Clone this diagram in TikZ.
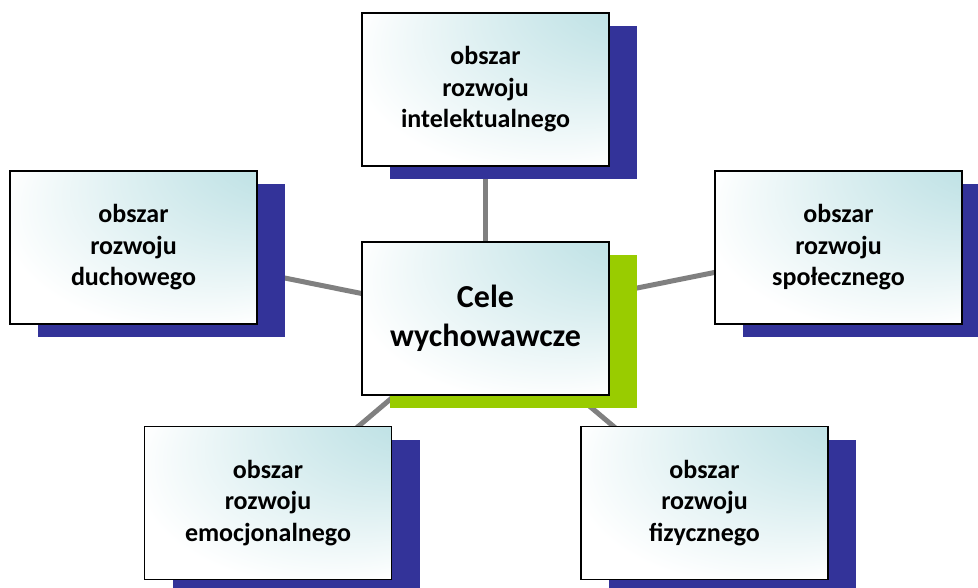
\documentclass[tikz,border=0pt]{standalone}
\usepackage{fontspec}
\setmainfont{Carlito}
\usetikzlibrary{shadows,backgrounds}
\definecolor{glowteal}{HTML}{B5DDE1}
\definecolor{shadowblue}{HTML}{333399}
\definecolor{shadowgreen}{HTML}{99CC00}
\definecolor{linkgray}{HTML}{808080}
\pgfdeclareradialshading{glow}{\pgfpoint{45bp}{45bp}}{color(0bp)=(glowteal); color(8bp)=(glowteal); color(38bp)=(white); color(50bp)=(white)}
\tikzset{
  areabox/.style={draw=black, line width=1.5pt, shade, shading=glow, align=center,
    minimum width=247pt, minimum height=153pt, inner sep=0pt,
    font=\bfseries\fontsize{26}{31.5}\selectfont,
    drop shadow={shadow xshift=28pt, shadow yshift=-13pt, fill=shadowblue, opacity=1}},
  goalbox/.style={areabox, font=\bfseries\fontsize{32}{39}\selectfont,
    drop shadow={shadow xshift=28pt, shadow yshift=-13pt, fill=shadowgreen, opacity=1}},
  link/.style={draw=linkgray, line width=5pt}
}
\begin{document}
\begin{tikzpicture}[x=1pt,y=-1pt]
\useasboundingbox (0,0) rectangle (978,587);
\clip (0,0) rectangle (978,587);
\node[goalbox] (goal) at (485.5,318.5) {Cele\\wychowawcze};
\foreach \n/\x/\y/\t in {intel/485.5/89.5/intelektualnego, duch/133.5/247.5/duchowego,
    spol/838.5/247.5/społecznego, emoc/268/503/emocjonalnego, fiz/704.5/503/fizycznego}{
  \node[areabox] (\n) at (\x,\y) {obszar\\rozwoju\\\t};
}
% connectors behind the boxes and their shadows
\begin{scope}[on background layer]
\foreach \n in {intel,duch,spol,emoc,fiz}{\draw[link] (goal.center) -- (\n.center);}
\end{scope}
\end{tikzpicture}
\end{document}
